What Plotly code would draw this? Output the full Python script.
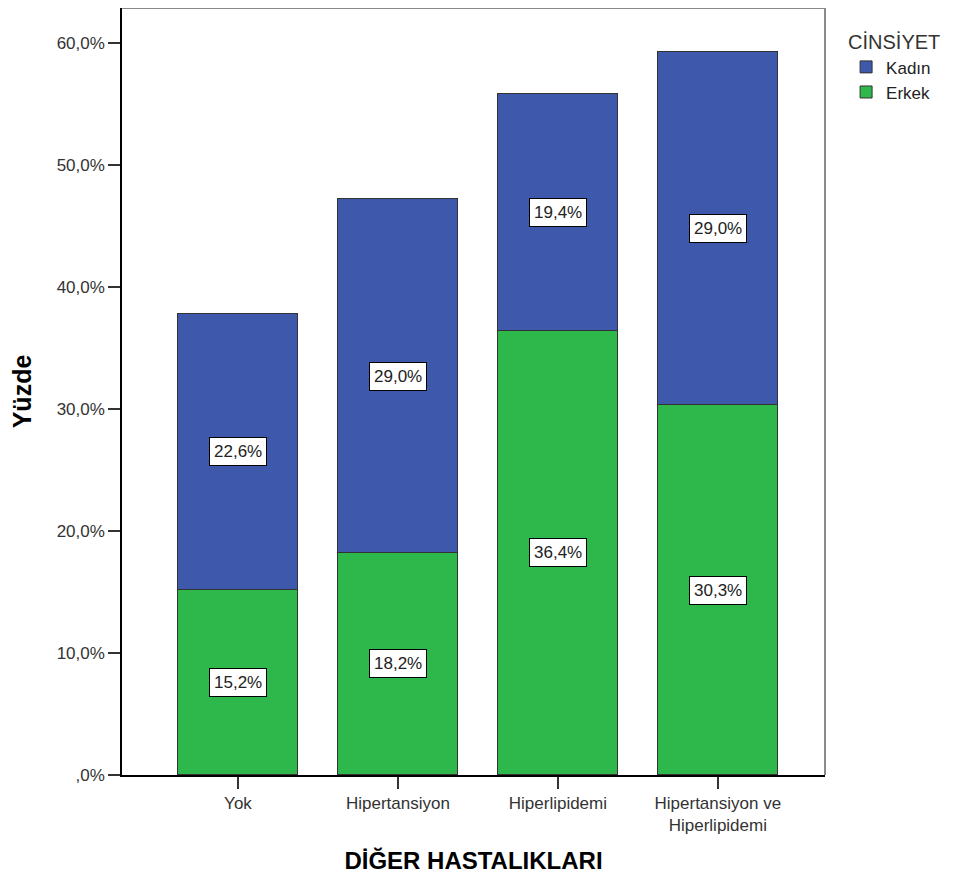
import plotly.graph_objects as go

categories = ["Yok", "Hipertansiyon", "Hiperlipidemi", "Hipertansiyon ve<br>Hiperlipidemi"]
erkek = [15.2, 18.2, 36.4, 30.3]
kadin = [22.6, 29.0, 19.4, 29.0]
erkek_labels = ["15,2%", "18,2%", "36,4%", "30,3%"]
kadin_labels = ["22,6%", "29,0%", "19,4%", "29,0%"]
y_ticks = [0, 10, 20, 30, 40, 50, 60]
y_ticktext = [",0%", "10,0%", "20,0%", "30,0%", "40,0%", "50,0%", "60,0%"]

BLUE = "#3E58AC"
GREEN = "#2EB84B"
FONT = "Liberation Sans, Arial, sans-serif"

x = list(range(len(categories)))

fig = go.Figure()
fig.add_trace(go.Bar(x=x, y=erkek, name="Erkek", marker_color=GREEN,
                     marker_line=dict(color="#333333", width=1), width=0.75))
fig.add_trace(go.Bar(x=x, y=kadin, name="Kadın", marker_color=BLUE,
                     marker_line=dict(color="#333333", width=1), width=0.75))

# etiketler: her segmentin ortasında beyaz kutu
for i in x:
    fig.add_annotation(x=i, y=erkek[i] / 2, text=erkek_labels[i], showarrow=False,
                       bgcolor="white", bordercolor="black", borderwidth=1, borderpad=4,
                       font=dict(size=17, color="#222222", family=FONT))
    fig.add_annotation(x=i, y=erkek[i] + kadin[i] / 2, text=kadin_labels[i], showarrow=False,
                       bgcolor="white", bordercolor="black", borderwidth=1, borderpad=4,
                       font=dict(size=17, color="#222222", family=FONT))

# üst ve sağ çerçeve (gri)
fig.add_shape(type="line", xref="paper", yref="paper", x0=0, x1=1, y0=1, y1=1,
              line=dict(color="#8a8a8a", width=2))
fig.add_shape(type="line", xref="paper", yref="paper", x0=1, x1=1, y0=0, y1=1,
              line=dict(color="#8a8a8a", width=2))

fig.update_layout(
    width=952, height=873,
    barmode="stack", bargap=0,
    plot_bgcolor="white", paper_bgcolor="white",
    margin=dict(l=114, r=135, t=0, b=106),
    font=dict(family=FONT, size=17, color="#333333"),
    xaxis=dict(
        tickvals=x, ticktext=categories, range=[-0.725, 3.67],
        showline=True, linecolor="black", linewidth=1.5,
        ticks="outside", ticklen=12, tickcolor="#333333", tickwidth=2,
        showgrid=False, zeroline=False,
        tickfont=dict(size=17, color="#333333"),
        title=dict(text="<b>DİĞER HASTALIKLARI</b>", standoff=18,
                   font=dict(size=24, color="black")),
    ),
    yaxis=dict(
        range=[0, 62.87], tickvals=y_ticks, ticktext=y_ticktext,
        showline=True, linecolor="black", linewidth=1.5,
        ticks="outside", ticklen=12, tickcolor="#333333", tickwidth=2,
        showgrid=False, zeroline=False,
        tickfont=dict(size=17, color="#333333"),
        title=dict(text="<b>Yüzde</b>", standoff=18,
                   font=dict(size=25, color="black")),
    ),
    legend=dict(
        x=1.03, y=0.98, xanchor="left", yanchor="top",
        traceorder="reversed",
        title=dict(text="CİNSİYET", font=dict(size=20, color="#333333")),
        font=dict(size=17, color="#222222"),
        itemwidth=30, tracegroupgap=0,
    ),
)

fig.write_html("out.html")
